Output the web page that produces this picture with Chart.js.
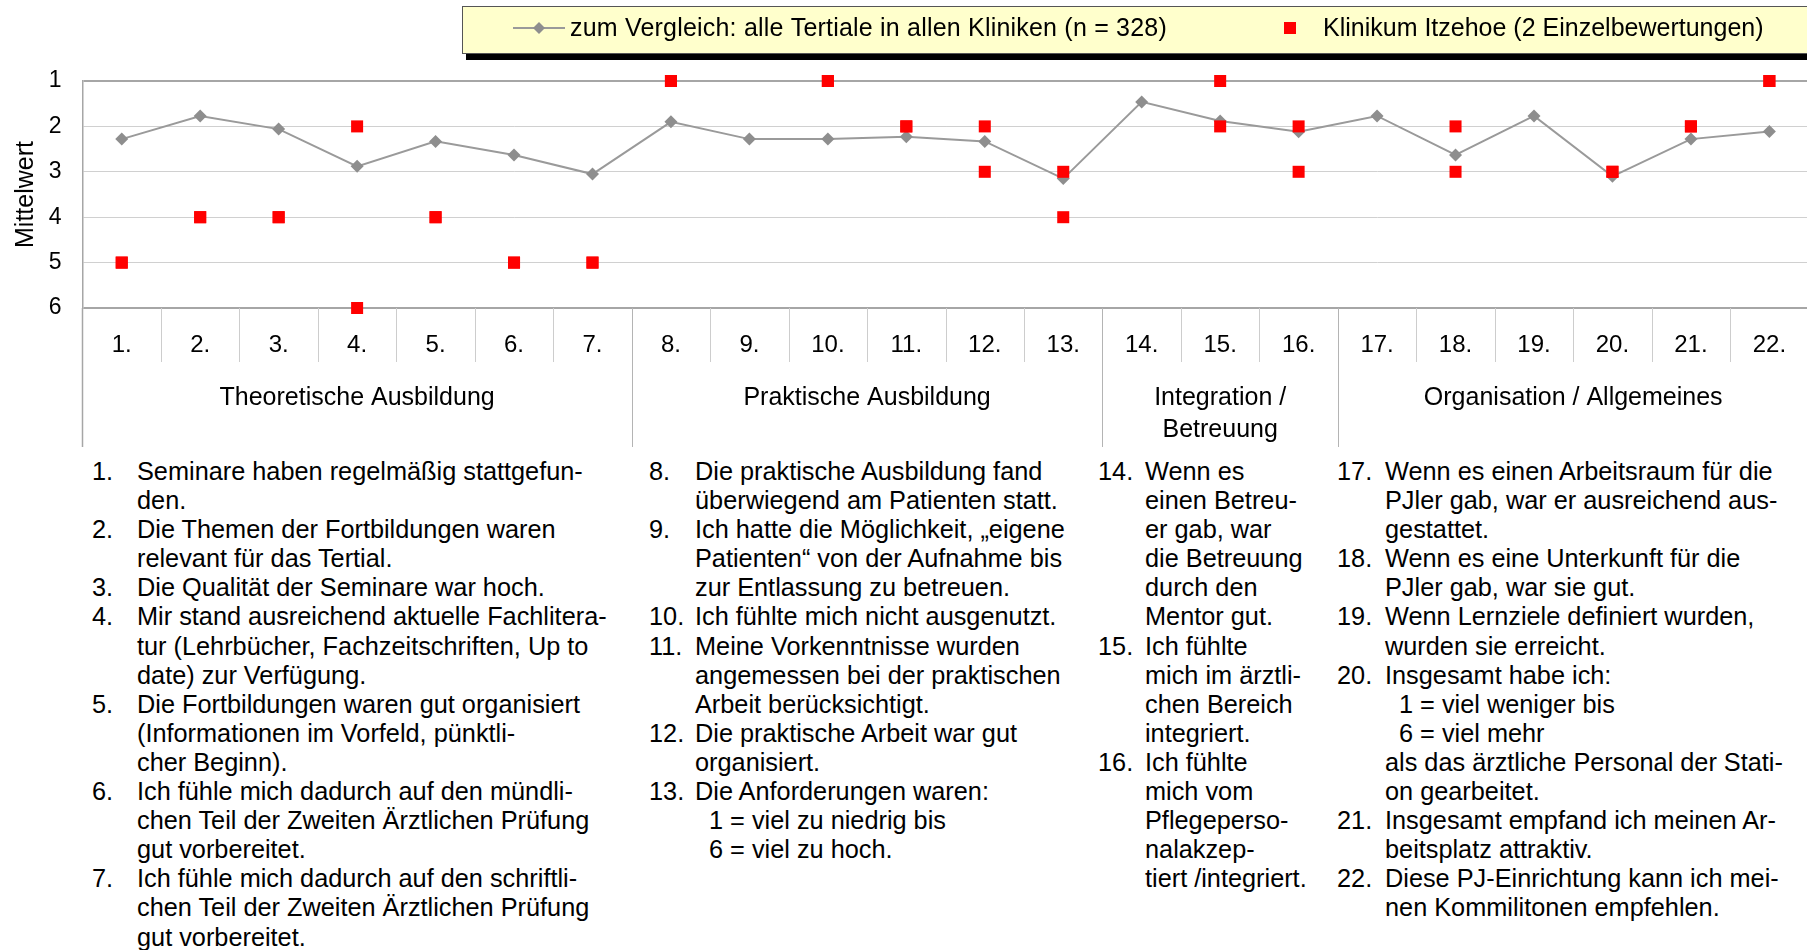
<!DOCTYPE html>
<html lang="de">
<head>
<meta charset="utf-8">
<title>PJ-Evaluation Klinikum Itzehoe</title>
<script src="https://cdn.jsdelivr.net/npm/chart.js@4.4.1/dist/chart.umd.min.js"></script>
<style>
  html, body { margin: 0; padding: 0; background: #fff; overflow: hidden; }
  body { width: 1807px; height: 950px; position: relative; font-family: "Liberation Sans", Arial, sans-serif; color: #000; }
  #chart { position: absolute; left: 0; top: 0; }
  .col { position: absolute; top: 457px; font-size: 25.3px; line-height: 29.1px; white-space: nowrap; }
  .item { position: relative; }
  .num { position: absolute; left: 0; top: 0; }
  .sub { padding-left: 14px; }
</style>
</head>
<body>
<canvas id="chart" width="1810" height="455"></canvas>
<div id="fragen"></div>

<script>
// Fragen 1-22
const kategorien = ["1.", "2.", "3.", "4.", "5.", "6.", "7.", "8.", "9.", "10.", "11.",
  "12.", "13.", "14.", "15.", "16.", "17.", "18.", "19.", "20.", "21.", "22."];

// Mittelwert aller Tertiale in allen Kliniken
const vergleich = [2.28, 1.77, 2.06, 2.88, 2.33, 2.63, 3.05, 1.90, 2.28, 2.28, 2.23,
  2.33, 3.15, 1.46, 1.88, 2.12, 1.77, 2.63, 1.77, 3.10, 2.28, 2.11];

// die zwei Einzelbewertungen Klinikum Itzehoe (null = keine Angabe)
const bewertungA = [5, 4, 4, 2, 4, 5, 5, 1, null, 1, 2, 2, 3, null, 1, 2, null, 2, null, 3, 2, 1];
const bewertungB = [5, 4, 4, 6, 4, 5, 5, 1, null, 1, 2, 3, 4, null, 2, 3, null, 3, null, 3, 2, 1];

const yTicks = [1, 2, 3, 4, 5, 6];

const gruppen = [
  { name: ["Theoretische Ausbildung"], von: "1.", bis: "7." },
  { name: ["Praktische Ausbildung"], von: "8.", bis: "13." },
  { name: ["Integration /", "Betreuung"], von: "14.", bis: "16." },
  { name: ["Organisation / Allgemeines"], von: "17.", bis: "22." }
];

const legendeVergleich = "zum Vergleich: alle Tertiale in allen Kliniken (n = 328)";
const legendeItzehoe = "Klinikum Itzehoe (2 Einzelbewertungen)";

// Fragetexte, Zeilen wie im Original umbrochen (">" = eingerückt)
const spalten = [
  { left: 92, indent: 45, fragen: [
    ["1.", "Seminare haben regelmäßig stattgefun-", "den."],
    ["2.", "Die Themen der Fortbildungen waren", "relevant für das Tertial."],
    ["3.", "Die Qualität der Seminare war hoch."],
    ["4.", "Mir stand ausreichend aktuelle Fachlitera-", "tur (Lehrbücher, Fachzeitschriften, Up to", "date) zur Verfügung."],
    ["5.", "Die Fortbildungen waren gut organisiert", "(Informationen im Vorfeld, pünktli-", "cher Beginn)."],
    ["6.", "Ich fühle mich dadurch auf den mündli-", "chen Teil der Zweiten Ärztlichen Prüfung", "gut vorbereitet."],
    ["7.", "Ich fühle mich dadurch auf den schriftli-", "chen Teil der Zweiten Ärztlichen Prüfung", "gut vorbereitet."]
  ]},
  { left: 649, indent: 46, fragen: [
    ["8.", "Die praktische Ausbildung fand", "überwiegend am Patienten statt."],
    ["9.", "Ich hatte die Möglichkeit, „eigene", "Patienten“ von der Aufnahme bis", "zur Entlassung zu betreuen."],
    ["10.", "Ich fühlte mich nicht ausgenutzt."],
    ["11.", "Meine Vorkenntnisse wurden", "angemessen bei der praktischen", "Arbeit berücksichtigt."],
    ["12.", "Die praktische Arbeit war gut", "organisiert."],
    ["13.", "Die Anforderungen waren:", ">1 = viel zu niedrig bis", ">6 = viel zu hoch."]
  ]},
  { left: 1098, indent: 47, fragen: [
    ["14.", "Wenn es", "einen Betreu-", "er gab, war", "die Betreuung", "durch den", "Mentor gut."],
    ["15.", "Ich fühlte", "mich im ärztli-", "chen Bereich", "integriert."],
    ["16.", "Ich fühlte", "mich vom", "Pflegeperso-", "nalakzep-", "tiert /integriert."]
  ]},
  { left: 1337, indent: 48, fragen: [
    ["17.", "Wenn es einen Arbeitsraum für die", "PJler gab, war er ausreichend aus-", "gestattet."],
    ["18.", "Wenn es eine Unterkunft für die", "PJler gab, war sie gut."],
    ["19.", "Wenn Lernziele definiert wurden,", "wurden sie erreicht."],
    ["20.", "Insgesamt habe ich:", ">1 = viel weniger bis", ">6 = viel mehr", "als das ärztliche Personal der Stati-", "on gearbeitet."],
    ["21.", "Insgesamt empfand ich meinen Ar-", "beitsplatz attraktiv."],
    ["22.", "Diese PJ-Einrichtung kann ich mei-", "nen Kommilitonen empfehlen."]
  ]}
];

// Fragetexte aufbauen
const fragenBox = document.getElementById("fragen");
spalten.forEach(sp => {
  const col = document.createElement("div");
  col.className = "col";
  col.style.left = sp.left + "px";
  sp.fragen.forEach(f => {
    const item = document.createElement("div");
    item.className = "item";
    item.style.paddingLeft = sp.indent + "px";
    const num = document.createElement("span");
    num.className = "num";
    num.textContent = f[0];
    item.appendChild(num);
    f.slice(1).forEach(zeile => {
      const z = document.createElement("div");
      if (zeile.startsWith(">")) {
        z.className = "sub";
        z.textContent = zeile.slice(1);
      } else {
        z.textContent = zeile;
      }
      item.appendChild(z);
    });
    col.appendChild(item);
  });
  fragenBox.appendChild(col);
});

// Punkte der Einzelbewertungen
const itzehoePunkte = [];
kategorien.forEach((k, i) => {
  [bewertungA[i], bewertungB[i]].forEach(v => {
    if (v !== null) itzehoePunkte.push({ x: k, y: v });
  });
});

const GRAU_LINIE = "#9a9a9a";
const GRAU_PUNKT = "#8e8e8e";
const ROT = "#ff0000";

Chart.defaults.font.family = "'Liberation Sans', Arial, sans-serif";
Chart.defaults.color = "#000";

// Trennlinien und Gruppenbeschriftung unter der x-Achse
const gruppenPlugin = {
  id: "gruppen",
  afterDraw(chart) {
    const { ctx, chartArea } = chart;
    const x = chart.scales.x;
    const half = (x.getPixelForValue(1) - x.getPixelForValue(0)) / 2;
    const grenze = i => x.getPixelForValue(i) - half;
    const gruppenEnden = gruppen.map(g => kategorien.indexOf(g.bis) + 1);
    const unten = chartArea.bottom;

    ctx.save();
    ctx.lineWidth = 1;
    for (let i = 1; i < kategorien.length; i++) {
      const lang = gruppenEnden.includes(i);
      const px = Math.round(grenze(i)) + 0.5;
      ctx.strokeStyle = lang ? "#b4b4b4" : "#cdcdcd";
      ctx.beginPath();
      ctx.moveTo(px, unten);
      ctx.lineTo(px, unten + (lang ? 139 : 54));
      ctx.stroke();
    }
    // linke Kante bis unter die Gruppen
    ctx.strokeStyle = "#a6a6a6";
    ctx.lineWidth = 1.5;
    ctx.beginPath();
    ctx.moveTo(chartArea.left, unten);
    ctx.lineTo(chartArea.left, unten + 139);
    ctx.stroke();

    ctx.fillStyle = "#000";
    ctx.font = "25px 'Liberation Sans', Arial, sans-serif";
    ctx.textAlign = "center";
    ctx.textBaseline = "middle";
    gruppen.forEach(g => {
      const a = kategorien.indexOf(g.von);
      const b = kategorien.indexOf(g.bis) + 1;
      const cx = (grenze(a) + grenze(b)) / 2;
      g.name.forEach((zeile, j) => ctx.fillText(zeile, cx, unten + 90 + j * 32.5));
    });
    ctx.restore();
  }
};

// Legende mit gelbem Kasten und Schatten
const legendePlugin = {
  id: "legende",
  afterDraw(chart) {
    const { ctx } = chart;
    ctx.save();
    ctx.fillStyle = "#000";
    ctx.fillRect(466, 12, 1400, 48);
    ctx.fillStyle = "#ffffcc";
    ctx.fillRect(462, 6, 1400, 48);
    ctx.strokeStyle = "#555";
    ctx.lineWidth = 1;
    ctx.strokeRect(462.5, 6.5, 1400, 47);

    const ly = 28;
    ctx.strokeStyle = GRAU_LINIE;
    ctx.lineWidth = 2;
    ctx.beginPath();
    ctx.moveTo(513, ly);
    ctx.lineTo(565, ly);
    ctx.stroke();
    ctx.fillStyle = GRAU_PUNKT;
    ctx.beginPath();
    ctx.moveTo(539, ly - 6);
    ctx.lineTo(545, ly);
    ctx.lineTo(539, ly + 6);
    ctx.lineTo(533, ly);
    ctx.closePath();
    ctx.fill();

    ctx.fillStyle = ROT;
    ctx.fillRect(1284, ly - 6, 12, 12);

    ctx.fillStyle = "#000";
    ctx.font = "25px 'Liberation Sans', Arial, sans-serif";
    ctx.textAlign = "left";
    ctx.textBaseline = "middle";
    ctx.letterSpacing = "0.2px";
    ctx.fillText(legendeVergleich, 570, ly + 1);
    ctx.letterSpacing = "0px";
    ctx.fillText(legendeItzehoe, 1323, ly + 1);
    ctx.restore();
  }
};

new Chart(document.getElementById("chart"), {
  type: "line",
  data: {
    labels: kategorien,
    datasets: [{
      label: legendeItzehoe,
      data: itzehoePunkte,
      showLine: false,
      pointStyle: "rect",
      pointRadius: 8.5,
      backgroundColor: ROT,
      borderColor: ROT,
      borderWidth: 0,
      clip: false,
      order: 0
    }, {
      label: legendeVergleich,
      data: vergleich,
      borderColor: GRAU_LINIE,
      borderWidth: 2,
      pointStyle: "rectRot",
      pointRadius: 6.5,
      pointBackgroundColor: GRAU_PUNKT,
      pointBorderColor: GRAU_PUNKT,
      pointBorderWidth: 0,
      tension: 0,
      clip: false,
      order: 1
    }]
  },
  options: {
    responsive: false,
    animation: false,
    events: [],
    layout: { autoPadding: false, padding: { top: 81, right: 1.4, left: 0, bottom: 0 } },
    plugins: {
      legend: { display: false },
      tooltip: { enabled: false }
    },
    scales: {
      x: {
        type: "category",
        offset: true,
        grid: { display: false, drawTicks: false },
        border: { display: false },
        ticks: {
          font: { size: 24 },
          color: "#000",
          padding: 23,
          maxRotation: 0,
          autoSkip: false
        },
        afterFit(scale) {
          scale.height = 147;
          scale.paddingLeft = 0;
          scale.paddingRight = 0;
        }
      },
      y: {
        min: 1,
        max: 6,
        reverse: true,
        afterBuildTicks(scale) { scale.ticks = yTicks.map(v => ({ value: v })); },
        grid: {
          drawTicks: false,
          color: c => (c.tick.value === 1 || c.tick.value === 6) ? "#a6a6a6" : "#d0d0d0",
          lineWidth: c => (c.tick.value === 1 || c.tick.value === 6) ? 2 : 1
        },
        border: { display: true, color: "#a6a6a6", width: 1.5 },
        ticks: {
          font: { size: 23 },
          color: "#000",
          padding: 21
        },
        title: {
          display: true,
          text: "Mittelwert",
          font: { size: 25 },
          color: "#000",
          padding: { top: 11, bottom: 0 }
        },
        afterFit(scale) { scale.width = 82.5; }
      }
    }
  },
  plugins: [gruppenPlugin, legendePlugin]
});
</script>
</body>
</html>
